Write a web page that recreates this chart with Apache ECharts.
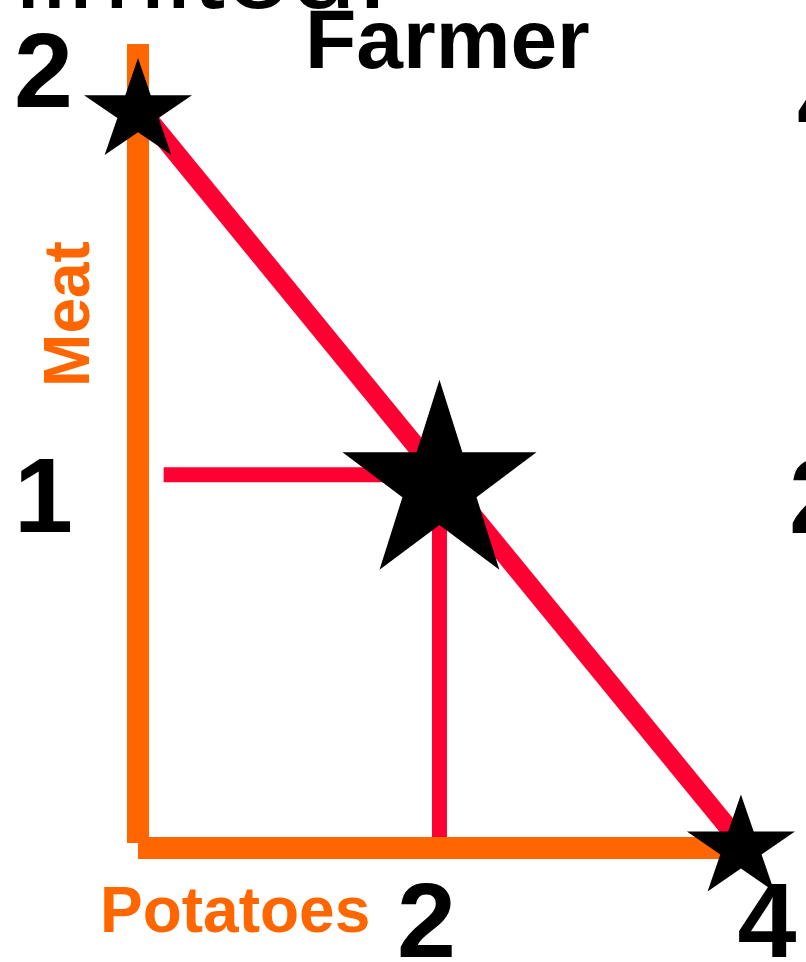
<!DOCTYPE html>
<html>
<head>
<meta charset="utf-8">
<style>
html, body { margin: 0; padding: 0; background: #fff; }
#chart { width: 806px; height: 962px; }
</style>
<script src="https://cdn.jsdelivr.net/npm/echarts@6/dist/echarts.min.js"></script>
</head>
<body>
<div id="chart"></div>
<script>
// production possibilities - farmer
var potatoes = [0, 2, 4];
var meat = [2, 1, 0];
var frontierX = [0, 4];
var frontierY = [2, 0];
// guide lines to the chosen point
var guideStartX = 0.17;
var chosenX = 2;
var chosenY = 1;
var xTickLabels = [2, 4];
var yTickLabels = [1, 2];

var ORANGE = '#FF6600';
var RED = '#FF0033';
var FONT = 'Liberation Sans, Arial, sans-serif';
var STAR = 'path://M100 0 L122.45 69.1 L195.11 69.1 L136.33 111.8 L158.78 180.9 L100 138.2 L41.22 180.9 L63.67 111.8 L4.89 69.1 L77.55 69.1 Z';

var myChart = echarts.init(document.getElementById('chart'));

var frontier = [];
for (i = 0; i < frontierX.length; i++) {
    frontier.push([frontierX[i], frontierY[i]]);
}
var stars = [];
for (i = 0; i < potatoes.length; i++) {
    stars.push([potatoes[i], meat[i]]);
}

var option = {
    backgroundColor: '#fff',
    animation: false,
    title: {
        text: 'Farmer',
        left: 300,
        top: -2,
        textStyle: {
            fontFamily: FONT,
            fontSize: 84,
            fontWeight: 'bold',
            color: '#000'
        }
    },
    grid: {
        left: 138,
        right: 50,
        top: 44,
        bottom: 119,
        outerBoundsMode: 'none'
    },
    xAxis: {
        type: 'value',
        min: 0,
        max: 4.1,
        offset: 5,
        z: 3,
        splitLine: { show: false },
        axisTick: { show: false },
        axisLine: {
            onZero: false,
            lineStyle: { color: ORANGE, width: 22, cap: 'butt' }
        },
        axisLabel: {
            customValues: xTickLabels,
            margin: 27,
            formatter: function (v) {
                return '{x' + v + '|' + v + '}';
            },
            rich: {
                x2: { fontFamily: FONT, fontSize: 106, fontWeight: 'bold', color: '#000', padding: [0, 26, 0, 0] },
                x4: { fontFamily: FONT, fontSize: 106, fontWeight: 'bold', color: '#000', padding: [0, 0, 0, 52] }
            }
        }
    },
    yAxis: {
        type: 'value',
        min: 0,
        max: 2.17,
        z: 3,
        splitLine: { show: false },
        axisTick: { show: false },
        axisLine: {
            onZero: false,
            lineStyle: { color: ORANGE, width: 22, cap: 'butt' }
        },
        axisLabel: {
            customValues: yTickLabels,
            margin: 65,
            formatter: function (v) {
                return '{y' + v + '|' + v + '}';
            },
            rich: {
                y1: { fontFamily: FONT, fontSize: 106, fontWeight: 'bold', color: '#000', padding: [56, 0, 0, 0] },
                y2: { fontFamily: FONT, fontSize: 106, fontWeight: 'bold', color: '#000', padding: [0, 0, 58, 0] }
            }
        }
    },
    graphic: [
        {
            type: 'text',
            left: 15, top: -84,
            style: { text: 'limited.', font: '118px ' + FONT, fill: '#000' }
        },
        {
            type: 'text',
            x: 100, y: 914,
            style: { text: 'Potatoes', font: 'bold 64px ' + FONT, fill: ORANGE, align: 'left', verticalAlign: 'middle' }
        },
        {
            type: 'text',
            x: 71, y: 314,
            rotation: Math.PI / 2,
            style: { text: 'Meat', font: 'bold 64px ' + FONT, fill: ORANGE, align: 'center', verticalAlign: 'middle' }
        },
        {
            type: 'text',
            x: 797, y: 108,
            style: { text: '4', font: 'bold 106px ' + FONT, fill: '#000', align: 'left', verticalAlign: 'middle' }
        },
        {
            type: 'text',
            x: 789, y: 504,
            style: { text: '2', font: 'bold 106px ' + FONT, fill: '#000', align: 'left', verticalAlign: 'middle' }
        }
    ],
    series: [
        {
            name: 'frontier',
            type: 'line',
            data: frontier,
            symbol: 'none',
            z: 2,
            lineStyle: { color: RED, width: 19 }
        },
        {
            name: 'guideH',
            type: 'line',
            data: [[guideStartX, chosenY], [chosenX, chosenY]],
            symbol: 'none',
            z: 2,
            lineStyle: { color: RED, width: 15 }
        },
        {
            name: 'guideV',
            type: 'line',
            data: [[chosenX, 0], [chosenX, chosenY]],
            symbol: 'none',
            z: 2,
            lineStyle: { color: RED, width: 15 }
        },
        {
            name: 'points',
            type: 'scatter',
            data: stars,
            symbol: STAR,
            z: 5,
            symbolSize: function (val, params) {
                return params.dataIndex === 1 ? [194, 190] : [108, 97];
            },
            itemStyle: { color: '#000', opacity: 1 }
        }
    ]
};

option && myChart.setOption(option);
</script>
</body>
</html>
